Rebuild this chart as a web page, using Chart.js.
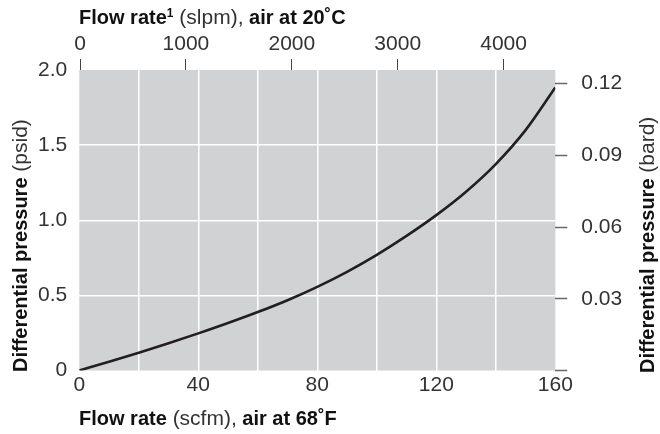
<!DOCTYPE html>
<html>
<head>
<meta charset="utf-8">
<script src="https://cdn.jsdelivr.net/npm/chart.js@4.4.1/dist/chart.umd.min.js"></script>
<style>
html,body{margin:0;padding:0;background:#fff}
#wrap{width:660px;height:434px}
</style>
</head>
<body>
<div id="wrap"><canvas id="chart" width="660" height="434"></canvas></div>
<script>
// curve: flow (scfm) vs differential pressure (psid)
const flowScfm=[0,10,20,30,40,50,60,70,80,90,100,110,120,130,140,150,160]
const dpPsid=[0,0.058,0.118,0.181,0.247,0.316,0.389,0.468,0.557,0.657,0.770,0.896,1.034,1.190,1.374,1.600,1.884]

const bottomTicks=[0,40,80,120,160]
const bottomGrid=[0,20,40,60,80,100,120,140,160]
const topTicks=[0,1000,2000,3000,4000]
const leftTicks=[0,0.5,1.0,1.5,2.0]
const rightTicks=[0,0.03,0.06,0.09,0.12]

const tickFont={family:"'Liberation Sans Narrow', 'Liberation Sans', Arial, sans-serif",size:21}
const tickColor='#333'

const plotBg={
id:'plotBg',
beforeDraw(chart){
const {ctx,chartArea:a}=chart
ctx.save()
ctx.fillStyle='#d1d2d4'
ctx.fillRect(a.left,a.top,a.right-a.left,a.bottom-a.top)
ctx.restore()
}
}

function drawRich(ctx,parts,x,y,rot){
ctx.save()
ctx.translate(x,y)
if(rot) ctx.rotate(rot)
ctx.textBaseline='alphabetic'
ctx.textAlign='left'
let cx=0
parts.forEach(p=>{
let size=p.sup?12:(p.b?20:21)
ctx.font=(p.b?'bold ':'')+size+"px "+(p.b?"'Liberation Sans', Arial":"'Liberation Sans Narrow', 'Liberation Sans'")+", sans-serif"
ctx.fillStyle=p.b?'#111':'#333'
ctx.fillText(p.t,cx,p.sup?-7:0)
cx+=ctx.measureText(p.t).width
})
ctx.restore()
}

const titles={
id:'titles',
afterDraw(chart){
const ctx=chart.ctx
drawRich(ctx,[{t:'Flow rate',b:true},{t:'1',b:true,sup:true},{t:' (slpm),'},{t:' air at 20˚C',b:true}],79,24)
drawRich(ctx,[{t:'Flow rate',b:true},{t:' (scfm),'},{t:' air at 68˚F',b:true}],79,425)
drawRich(ctx,[{t:'Differential pressure',b:true},{t:' (psid)'}],27,372,-Math.PI/2)
drawRich(ctx,[{t:'Differential pressure',b:true},{t:' (bard)'}],654,373,-Math.PI/2)
}
}

const edgeless=(lo,hi)=>c=>(c.tick&&(c.tick.value===lo||c.tick.value===hi))?'rgba(0,0,0,0)':'#ffffff'

new Chart(document.getElementById('chart'),{
type:'line',
data:{
datasets:[{
data:flowScfm.map((v,i)=>({x:v,y:dpPsid[i]})),
borderColor:'#231f20',
borderWidth:2.6,
pointRadius:0,
cubicInterpolationMode:'monotone',
fill:false
}]
},
options:{
responsive:false,
animation:false,
layout:{padding:0},
plugins:{legend:{display:false},tooltip:{enabled:false}},
scales:{
x:{
type:'linear',position:'bottom',min:0,max:160,
afterBuildTicks:s=>{s.ticks=bottomGrid.map(v=>({value:v}))},
afterFit:s=>{s.height=63.5},
grid:{color:edgeless(0,160),lineWidth:1.5,drawTicks:false},
border:{display:false},
ticks:{padding:2,font:tickFont,color:tickColor,maxRotation:0,autoSkip:false,
callback:v=>bottomTicks.includes(v)?String(v):''}
},
x2:{
type:'linear',position:'top',min:-7,max:4488,
afterBuildTicks:s=>{s.ticks=topTicks.map(v=>({value:v}))},
afterFit:s=>{s.height=70},
grid:{drawOnChartArea:false,drawTicks:true,tickLength:11,tickColor:'#444',tickWidth:1},
border:{display:false},
ticks:{padding:2,font:tickFont,color:tickColor,maxRotation:0,autoSkip:false,callback:v=>String(v)}
},
y:{
type:'linear',position:'left',min:0,max:2,
afterBuildTicks:s=>{s.ticks=leftTicks.map(v=>({value:v}))},
afterFit:s=>{s.width=79.3},
grid:{color:edgeless(0,2),lineWidth:1.5,drawTicks:false},
border:{display:false},
ticks:{padding:12,font:tickFont,color:tickColor,callback:v=>v===0?'0':v.toFixed(1)}
},
y2:{
type:'linear',position:'right',min:0,max:0.1257,
afterBuildTicks:s=>{s.ticks=rightTicks.map(v=>({value:v}))},
afterFit:s=>{s.width=104.7},
grid:{drawOnChartArea:false,drawTicks:true,tickLength:12,tickColor:'#666',tickWidth:1.5},
border:{display:false},
ticks:{padding:14,font:tickFont,color:tickColor,callback:v=>v===0?'':v.toFixed(2)}
}
}
},
plugins:[plotBg,titles]
})
</script>
</body>
</html>
